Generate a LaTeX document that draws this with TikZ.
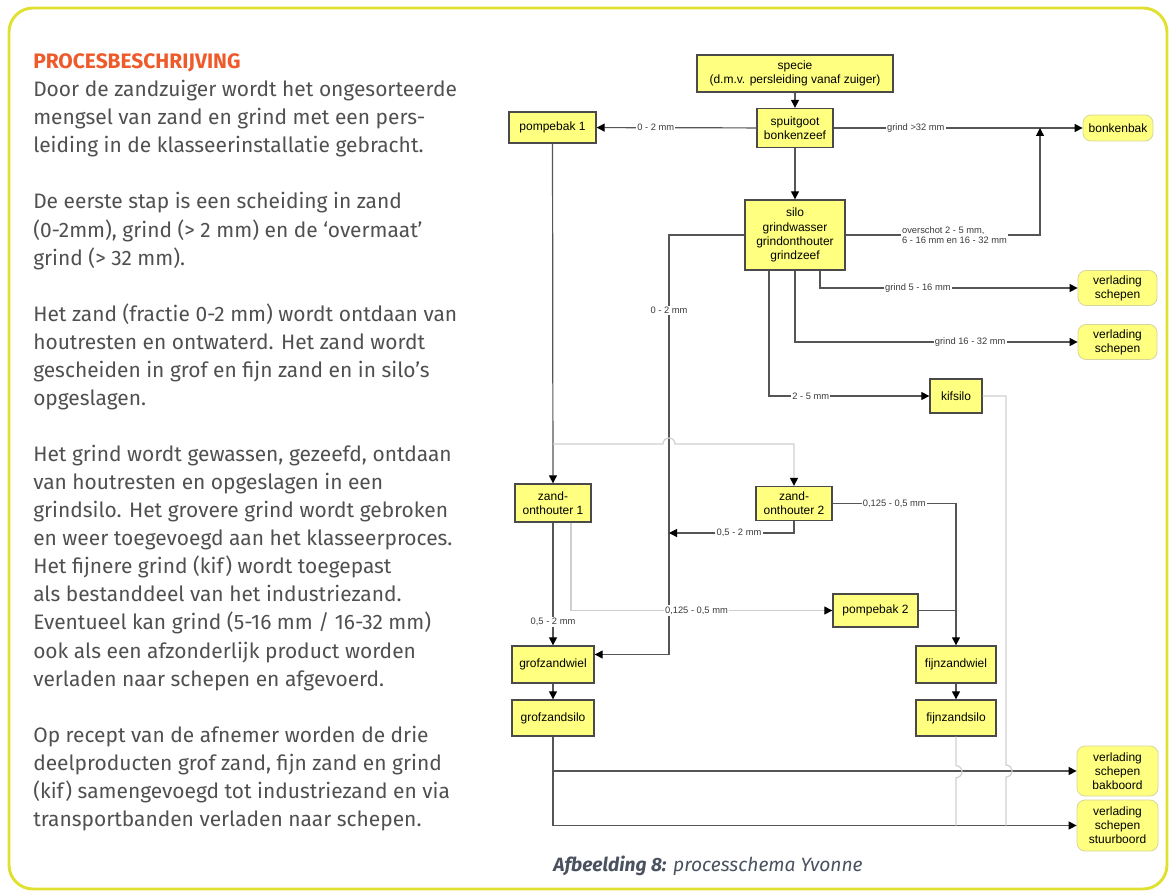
\documentclass[tikz,border=0pt]{standalone}
\usepackage{fontspec}
\setmainfont{Fira Sans}
\newfontfamily\diafont{Liberation Sans}
\usetikzlibrary{arrows.meta,calc}
\definecolor{frameyellow}{HTML}{E0E030}
\definecolor{boxyellow}{HTML}{FFFF80}
\definecolor{boxline}{HTML}{4A4A4A}
\definecolor{termline}{HTML}{D6D69A}
\definecolor{lineclr}{HTML}{555555}
\definecolor{paleclr}{HTML}{CFCFCF}
\definecolor{lbltext}{HTML}{3A3A3A}
\definecolor{bodytext}{HTML}{505050}
\definecolor{headred}{HTML}{EE5A2A}
\definecolor{captext}{HTML}{4A5260}
\tikzset{
  box/.style={draw=boxline,fill=boxyellow,line width=1pt,inner sep=0pt,align=center,
    font=\diafont\fontsize{9}{10.6}\selectfont},
  term/.style={box,draw=termline,line width=0.6pt,rounded corners=6pt},
  lbl/.style={fill=white,inner sep=1pt,text=lbltext,font=\diafont\fontsize{7}{7.6}\selectfont},
  conn/.style={draw=lineclr,line width=0.9pt,-{Triangle[length=6pt,width=6pt,color=black]}},
  plain/.style={draw=lineclr,line width=0.9pt},
  pale/.style={draw=paleclr,line width=0.9pt},
  paleconn/.style={pale,-{Triangle[length=6pt,width=6pt,color=black]}},
}
\begin{document}
\begin{tikzpicture}[x=0.75pt,y=-0.75pt]
\useasboundingbox (0,0) rectangle (1173,895);
% frame
\draw[frameyellow,line width=2.2pt,rounded corners=18pt] (9,8) rectangle (1167,889);

% description
\node[anchor=north west,inner sep=0pt,align=left,text=bodytext,
  font=\fontsize{15.7}{21.05}\selectfont] (desc) at (33,53.5)
{{\color{headred}\bfseries PROCESBESCHRIJVING}\\
Door de zandzuiger wordt het ongesorteerde\\
mengsel van zand en grind met een pers-\\
leiding in de klasseerinstallatie gebracht.\\[21.05pt]
De eerste stap is een scheiding in zand\\
(0-2mm), grind (> 2 mm) en de ‘overmaat’\\
grind (> 32 mm).\\[21.05pt]
Het zand (fractie 0-2 mm) wordt ontdaan van\\
houtresten en ontwaterd. Het zand wordt\\
gescheiden in grof en fijn zand en in silo’s\\
opgeslagen.\\[21.05pt]
Het grind wordt gewassen, gezeefd, ontdaan\\
van houtresten en opgeslagen in een\\
grindsilo. Het grovere grind wordt gebroken\\
en weer toegevoegd aan het klasseerproces.\\
Het fijnere grind (kif) wordt toegepast\\
als bestanddeel van het industriezand.\\
Eventueel kan grind (5-16 mm / 16-32 mm)\\
ook als een afzonderlijk product worden\\
verladen naar schepen en afgevoerd.\\[21.05pt]
Op recept van de afnemer worden de drie\\
deelproducten grof zand, fijn zand en grind\\
(kif) samengevoegd tot industriezand en via\\
transportbanden verladen naar schepen.};

% process boxes
\node[box,minimum width=147pt,minimum height=27.75pt] (specie) at (795,73.5)
  {specie\\(d.m.v. persleiding vanaf zuiger)};
\node[box,minimum width=57pt,minimum height=29.25pt] (spuit) at (795,128)
  {spuitgoot\\bonkenzeef};
\node[box,minimum width=65.25pt,minimum height=23.25pt] (pb1) at (552.5,127.5) {pompebak 1};
\node[term,minimum width=52.5pt,minimum height=19.5pt] (bonk) at (1118,128) {bonkenbak};
\node[box,minimum width=75pt,minimum height=52.5pt] (silo) at (795,235)
  {silo\\grindwasser\\grindonthouter\\grindzeef};
\node[term,minimum width=59.25pt,minimum height=26.25pt] (vs1) at (1117.5,288) {verlading\\schepen};
\node[term,minimum width=59.25pt,minimum height=26.25pt] (vs2) at (1117.5,342) {verlading\\schepen};
\node[box,minimum width=39pt,minimum height=25.5pt] (kif) at (956,396) {kifsilo};
\node[box,minimum width=57pt,minimum height=28.5pt] (zo1) at (553,503) {zand-\\onthouter 1};
\node[box,minimum width=57pt,minimum height=25.5pt] (zo2) at (794,503.5) {zand-\\onthouter 2};
\node[box,minimum width=63.75pt,minimum height=24.75pt] (pb2) at (875.5,610.5) {pompebak 2};
\node[box,minimum width=61.5pt,minimum height=27.75pt] (gzw) at (553,664.5) {grofzandwiel};
\node[box,minimum width=61.5pt,minimum height=27pt] (gzs) at (553,718) {grofzandsilo};
\node[box,minimum width=60pt,minimum height=27.75pt] (fzw) at (956,664.5) {fijnzandwiel};
\node[box,minimum width=60pt,minimum height=27pt] (fzs) at (956,718) {fijnzandsilo};
\node[term,minimum width=60.75pt,minimum height=37.5pt] (bak) at (1117.5,771) {verlading\\schepen\\bakboord};
\node[term,minimum width=60.75pt,minimum height=38.25pt] (stuur) at (1117.5,825.5) {verlading\\schepen\\stuurboord};

% helper points
\coordinate (jb) at (1040,128);
\coordinate (k0) at (669,654.5);
\coordinate (k1) at (669,533);
\coordinate (t1) at (553,444);
\coordinate (k2) at (1006,765);

% connectors
\draw[conn] (specie) -- (spuit);
\draw[conn] (spuit) -- node[lbl,pos=0.63]{0 - 2 mm} (pb1);
\draw[conn] (spuit) -- node[lbl,pos=0.33]{grind >32 mm} (bonk);
\draw[conn] (spuit) -- (silo);
\draw[conn] (silo.east) -| node[lbl,pos=0.28,align=left]{overschot 2 - 5 mm,\\6 - 16 mm en 16 - 32 mm} (jb);
\draw[conn] ($(silo.south)+(25,0)$) |- node[lbl,pos=0.69]{grind 5 - 16 mm} (vs1);
\draw[conn] (silo.south) |- node[lbl,pos=0.81]{grind 16 - 32 mm} (vs2);
\draw[conn] ($(silo.south)+(-26,0)$) |- node[lbl,pos=0.63]{2 - 5 mm} (kif);
\draw[conn] (silo.west) -| node[lbl,pos=0.59]{0 - 2 mm} (k0) -- (k0 -| gzw.east);
\draw[conn] (pb1) -- (zo1);
\draw[paleconn] (t1) -- ++(110,0) arc[start angle=180,end angle=0,radius=4.5pt]
  -- (t1 -| zo2) -- (zo2);
\draw[conn] (zo2.south) |- node[lbl,pos=0.72]{0,5 - 2 mm} (k1);
\draw[conn] (zo2.east) -| node[lbl,pos=0.25]{0,125 - 0,5 mm} (fzw);
\draw[paleconn] ($(zo1.south)+(18,0)$) |- node[lbl,pos=0.74]{0,125 - 0,5 mm} (pb2);
\draw[conn] (zo1) -- node[lbl,pos=0.81]{0,5 - 2 mm} (gzw);
\draw[plain] (pb2.east) -- (pb2.east -| fzw);
\draw[conn] (fzw) -- (fzs);
\draw[conn] (gzw) -- (gzs);
\draw[conn] (gzs.south) |- (bak);
\draw[conn] (gzs.south) |- (stuur);
\draw[pale] (fzs.south) -- ++(0,29) arc[start angle=90,end angle=-90,radius=4.5pt]
  -- (fzs.south |- stuur);
\draw[pale] (kif.east) -| (k2) arc[start angle=90,end angle=-90,radius=4.5pt]
  -- (k2 |- stuur);

% caption
\node[text=captext,font=\itshape\fontsize{14.4}{16}\selectfont] (cap) at (708,866)
  {{\bfseries Afbeelding 8:} processchema Yvonne};
\end{tikzpicture}
\end{document}
